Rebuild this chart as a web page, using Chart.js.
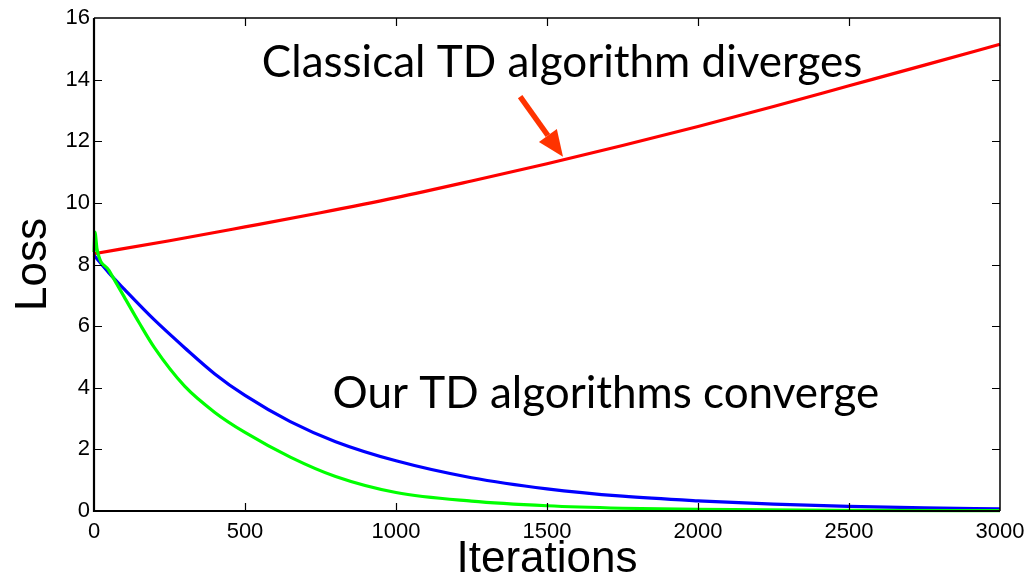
<!DOCTYPE html>
<html>
<head>
<meta charset="utf-8">
<script src="https://cdn.jsdelivr.net/npm/chart.js@4.4.1/dist/chart.umd.min.js"></script>
<style>
  html, body { margin: 0; padding: 0; background: #fff; }
  #wrap { width: 1028px; height: 577px; }
</style>
</head>
<body>
<div id="wrap"><canvas id="chart" width="1028" height="577"></canvas></div>
<script>
// values
const redIters = [0, 250, 500, 750, 1000, 1250, 1500, 1750, 2000, 2250, 2500, 2750, 3000];
const redLoss = [8.35, 8.77, 9.22, 9.68, 10.17, 10.71, 11.27, 11.86, 12.48, 13.13, 13.8, 14.47, 15.15];

const blueIters = [0, 50, 100, 200, 300, 400, 500, 650, 800, 1000, 1250, 1500, 1750, 2000, 2250, 2500, 2750, 3000];
const blueLoss = [8.3, 7.72, 7.2, 6.2, 5.3, 4.45, 3.75, 2.9, 2.25, 1.63, 1.08, 0.72, 0.48, 0.33, 0.22, 0.15, 0.1, 0.07];

const greenIters = [0, 3, 10, 50, 100, 150, 200, 300, 400, 500, 650, 800, 1000, 1250, 1500, 1750, 2000, 2500, 3000];
const greenLoss = [8.4, 9.05, 8.5, 7.8, 6.95, 6.1, 5.3, 4.05, 3.2, 2.55, 1.75, 1.12, 0.6, 0.32, 0.17, 0.09, 0.05, 0.02, 0.01];

const xTicks = [0, 500, 1000, 1500, 2000, 2500, 3000];
const yTicks = [0, 2, 4, 6, 8, 10, 12, 14, 16];

const toPoints = (xs, ys) => xs.map((x, i) => ({ x: x, y: ys[i] }));

// annotation text and arrow, placed in data units
const notes = [
  { text: 'Classical TD algorithm diverges', x: 1550, y: 14.1 },
  { text: 'Our TD algorithms converge', x: 1695, y: 3.35 }
];
const arrowFrom = { x: 1411, y: 13.45 };
const arrowTo = { x: 1553, y: 11.5 };

const frame = {
  id: 'frame',
  afterDatasetsDraw(chart) {
    const { ctx, chartArea: a, scales } = chart;
    ctx.save();
    ctx.strokeStyle = '#000';
    // inward ticks on all four sides
    ctx.lineWidth = 1.2;
    ctx.beginPath();
    xTicks.forEach(v => {
      const px = Math.round(scales.x.getPixelForValue(v)) + 0.5;
      if (v === 0 || v === 3000) return;
      ctx.moveTo(px, a.bottom); ctx.lineTo(px, a.bottom - 8);
      ctx.moveTo(px, a.top); ctx.lineTo(px, a.top + 8);
    });
    yTicks.forEach(v => {
      const py = Math.round(scales.y.getPixelForValue(v)) + 0.5;
      if (v === 0 || v === 16) return;
      ctx.moveTo(a.left, py); ctx.lineTo(a.left + 8, py);
      ctx.moveTo(a.right, py); ctx.lineTo(a.right - 8, py);
    });
    ctx.stroke();
    // box
    ctx.lineWidth = 1.5;
    ctx.beginPath();
    ctx.moveTo(a.left, a.top); ctx.lineTo(a.right, a.top); ctx.lineTo(a.right, a.bottom);
    ctx.stroke();
    ctx.lineWidth = 2.2;
    ctx.beginPath();
    ctx.moveTo(a.left, a.top); ctx.lineTo(a.left, a.bottom); ctx.lineTo(a.right, a.bottom);
    ctx.stroke();

    // labels
    ctx.fillStyle = '#000';
    ctx.font = '44px Lato';
    ctx.textAlign = 'center';
    ctx.textBaseline = 'alphabetic';
    notes.forEach(n => {
      ctx.fillText(n.text, scales.x.getPixelForValue(n.x), scales.y.getPixelForValue(n.y));
    });

    // arrow
    const x1 = scales.x.getPixelForValue(arrowFrom.x), y1 = scales.y.getPixelForValue(arrowFrom.y);
    const x2 = scales.x.getPixelForValue(arrowTo.x), y2 = scales.y.getPixelForValue(arrowTo.y);
    const ang = Math.atan2(y2 - y1, x2 - x1);
    const head = 26, half = 11;
    const bx = x2 - head * Math.cos(ang), by = y2 - head * Math.sin(ang);
    ctx.strokeStyle = '#ff3300';
    ctx.fillStyle = '#ff3300';
    ctx.lineWidth = 5.5;
    ctx.beginPath();
    ctx.moveTo(x1, y1); ctx.lineTo(bx, by);
    ctx.stroke();
    ctx.beginPath();
    ctx.moveTo(x2, y2);
    ctx.lineTo(bx + half * Math.sin(ang), by - half * Math.cos(ang));
    ctx.lineTo(bx - half * Math.sin(ang), by + half * Math.cos(ang));
    ctx.closePath();
    ctx.fill();
    ctx.restore();
  }
};

const line = (pts, color) => ({
  data: pts,
  borderColor: color,
  backgroundColor: color,
  borderWidth: 3.2,
  pointRadius: 0,
  cubicInterpolationMode: 'monotone',
  fill: false,
  clip: 4
});

new Chart(document.getElementById('chart'), {
  type: 'line',
  data: {
    datasets: [
      line(toPoints(greenIters, greenLoss), '#00ff00'),
      line(toPoints(blueIters, blueLoss), '#0000ff'),
      line(toPoints(redIters, redLoss), '#ff0000')
    ]
  },
  options: {
    responsive: false,
    animation: false,
    layout: { padding: { left: 0, right: 28, top: 18, bottom: 0 } },
    plugins: { legend: { display: false }, tooltip: { enabled: false } },
    scales: {
      x: {
        type: 'linear',
        min: 0,
        max: 3000,
        afterBuildTicks: s => { s.ticks = xTicks.map(v => ({ value: v })); },
        afterFit: s => { s.height = 66; s.paddingLeft = 0; s.paddingRight = 0; },
        grid: { display: false, drawTicks: false },
        border: { display: false },
        ticks: {
          color: '#000', padding: 8, maxRotation: 0,
          font: { family: 'Liberation Sans', size: 22 },
          callback: v => String(v)
        },
        title: {
          display: true, text: 'Iterations', color: '#000',
          font: { family: 'Liberation Sans', size: 44, lineHeight: 0.8 },
          padding: { top: 0, bottom: 0 }
        }
      },
      y: {
        min: 0,
        max: 16,
        afterBuildTicks: s => { s.ticks = yTicks.map(v => ({ value: v })); },
        afterFit: s => { s.width = 94; s.paddingTop = 0; s.paddingBottom = 0; },
        grid: { display: false, drawTicks: false },
        border: { display: false },
        ticks: { color: '#000', padding: 4, font: { family: 'Liberation Sans', size: 22 } },
        title: {
          display: true, text: 'Loss', color: '#000',
          font: { family: 'Liberation Sans', size: 44, lineHeight: 1 },
          padding: { top: 12, bottom: 0 }
        }
      }
    }
  },
  plugins: [frame]
});
</script>
</body>
</html>
